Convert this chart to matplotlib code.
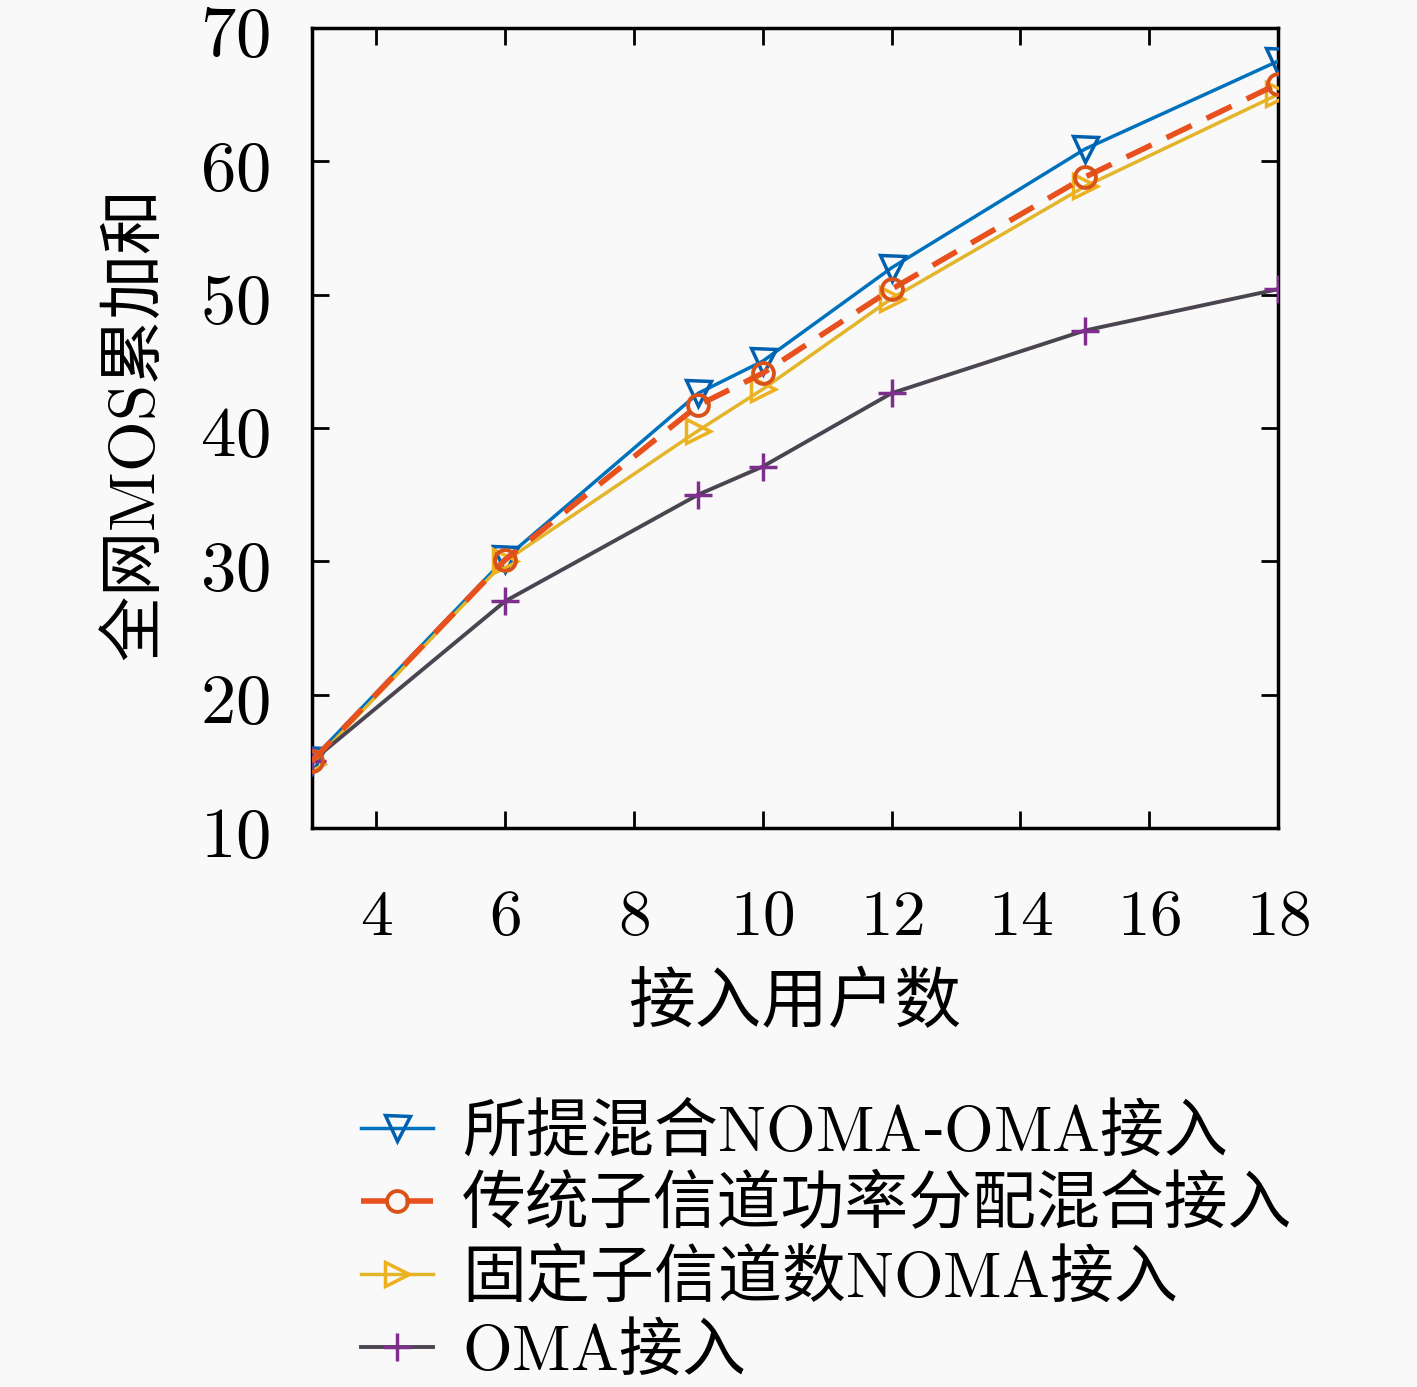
import numpy as np
import matplotlib
matplotlib.use('Agg')
from matplotlib import pyplot as plt

plt.rcParams['font.family'] = ['Noto Sans CJK SC', 'DejaVu Sans']
plt.rcParams['mathtext.fontset'] = 'cm'

# data
users = [3, 6, 9, 10, 12, 15, 18]
mos_proposed = [15.1, 30.2, 42.6, 45.0, 52.0, 60.9, 67.5]
mos_subchannel_power = [15.0, 30.1, 41.7, 44.1, 50.4, 58.8, 65.8]
mos_fixed_noma = [14.8, 30.0, 39.8, 42.9, 49.7, 58.1, 65.0]
mos_oma = [15.0, 27.0, 35.0, 37.1, 42.6, 47.3, 50.4]

labels = ['所提混合$\\mathrm{NOMA}$-$\\mathrm{OMA}$接入',
          '传统子信道功率分配混合接入',
          '固定子信道数$\\mathrm{NOMA}$接入',
          '$\\mathrm{OMA}$接入']

x_ticks = [4, 6, 8, 10, 12, 14, 16, 18]
y_ticks = [10, 20, 30, 40, 50, 60, 70]

bg = '#f9f9f9'

fig = plt.figure(figsize=(14.17, 13.87), dpi=100, facecolor=bg)
ax = fig.add_axes([0.220, 0.403, 0.682, 0.577], facecolor=bg)

ax.plot(users, mos_proposed, color='#0072BD', lw=2.5, marker='v', ms=18,
        mfc='none', mec='#0060B0', mew=2.5, label=labels[0], zorder=3)
ax.plot(users, mos_subchannel_power, color='#E8501E', lw=4, ls=(0, (5, 3)),
        marker='o', ms=15, mfc='none', mec='#D95319', mew=2.8, label=labels[1], zorder=4)
ax.plot(users, mos_fixed_noma, color='#E3B52A', lw=2.5, marker='>', ms=17,
        mfc='none', mec='#EDB120', mew=2.5, label=labels[2], zorder=3)
ax.plot(users, mos_oma, color='#4a4550', lw=2.8, marker='+', ms=20,
        mec='#7E2F8E', mew=2.5, label=labels[3], zorder=3)

ax.set_xlim(3, 18)
ax.set_ylim(10, 70)
ax.set_xticks(x_ticks)
ax.set_xticklabels(['$%d$' % t for t in x_ticks], fontsize=47)
ax.set_yticks(y_ticks)
ax.set_yticklabels(['$%d$' % t for t in y_ticks], fontsize=51)
ax.tick_params(direction='in', length=12, width=2, top=True, right=True)
ax.tick_params(axis='x', pad=40)
ax.tick_params(axis='y', pad=30)
for s in ax.spines.values():
    s.set_linewidth(2.5)

ax.set_xlabel('接入用户数', fontsize=48, labelpad=14)
ax.set_ylabel('全网$\\mathrm{MOS}$累加和', fontsize=47, labelpad=22)

fig.legend(loc='upper left', bbox_to_anchor=(0.237, 0.226), frameon=False,
           fontsize=46, handlelength=1.12, handletextpad=0.45,
           labelspacing=0.1, borderaxespad=0)

fig.savefig('out.png', dpi=100, facecolor=bg)
